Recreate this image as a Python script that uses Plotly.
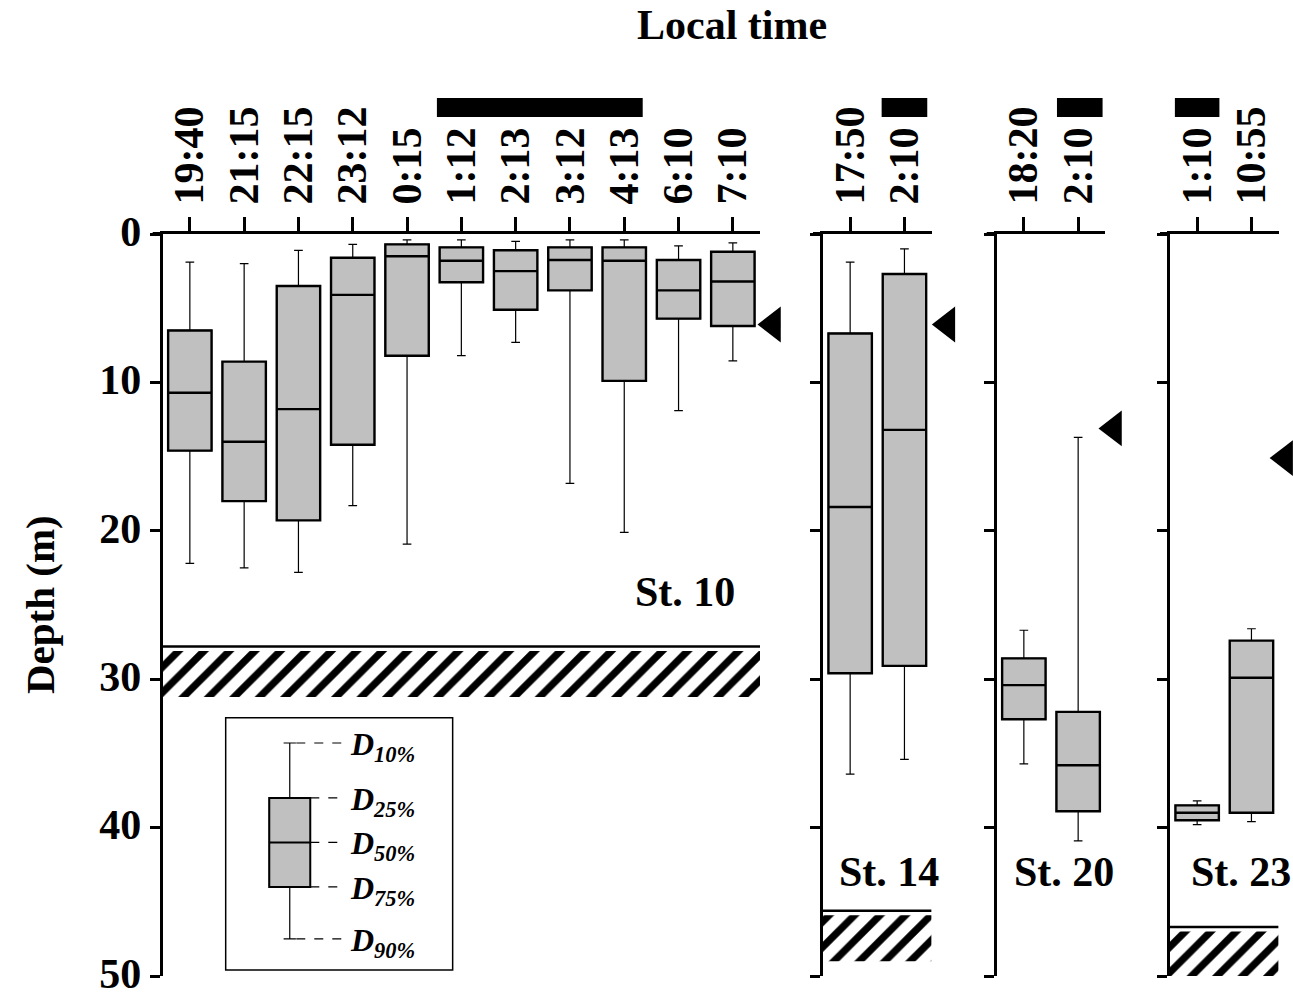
import plotly.graph_objects as go

# ---------------- data (depth in m) ----------------
st10_times = ["19:40", "21:15", "22:15", "23:12", "0:15", "1:12", "2:13", "3:12", "4:13", "6:10", "7:10"]
st10_d10 = [1.9, 2.0, 1.1, 0.7, 0.4, 0.4, 0.5, 0.4, 0.4, 0.8, 0.6]
st10_d25 = [6.5, 8.6, 3.5, 1.6, 0.7, 0.9, 1.1, 0.9, 0.9, 1.75, 1.2]
st10_d50 = [10.7, 14.0, 11.8, 4.1, 1.5, 1.8, 2.5, 1.75, 1.8, 3.8, 3.2]
st10_d75 = [14.6, 18.0, 19.3, 14.2, 8.2, 3.25, 5.1, 3.8, 9.9, 5.7, 6.2]
st10_d90 = [22.2, 22.5, 22.8, 18.3, 20.9, 8.2, 7.3, 16.8, 20.1, 11.9, 8.55]

st14_times = ["17:50", "2:10"]
st14_d10 = [1.9, 1.0]
st14_d25 = [6.7, 2.7]
st14_d50 = [18.4, 13.2]
st14_d75 = [29.6, 29.1]
st14_d90 = [36.4, 35.4]

st20_times = ["18:20", "2:10"]
st20_d10 = [26.7, 13.7]
st20_d25 = [28.6, 32.2]
st20_d50 = [30.4, 35.8]
st20_d75 = [32.7, 38.9]
st20_d90 = [35.7, 40.9]

st23_times = ["1:10", "10:55"]
st23_d10 = [38.2, 26.6]
st23_d25 = [38.5, 27.4]
st23_d50 = [39.0, 29.9]
st23_d75 = [39.5, 39.0]
st23_d90 = [39.8, 39.6]

station_names = ["St. 10", "St. 14", "St. 20", "St. 23"]
marker_depth = [6.1, 6.1, 13.1, 15.1]          # black triangles
seafloor_depth = [27.8, 45.6, None, 46.7]       # hatched bottom
night_span = [(4.55, 8.34), (0.58, 1.42), (0.61, 1.45), (-0.41, 0.41)]  # black bars (category units)

legend_vals = [34.3, 38.0, 41.0, 44.0, 47.5]
legend_labels = ["10%", "25%", "50%", "75%", "90%"]

# ---------------- layout helpers ----------------
W, H = 1293, 994
U = 54.3                      # px per category
Y_TOP, Y_BOT = 234, 976       # px of depth 0 and 50


def px_x(p):
    return p / W


def px_y(p):
    return 1 - p / H


panels = [
    dict(times=st10_times, d=(st10_d10, st10_d25, st10_d50, st10_d75, st10_d90), left=162.7,
         label_pos=(9.12, 24.1), tri_off=0.74),
    dict(times=st14_times, d=(st14_d10, st14_d25, st14_d50, st14_d75, st14_d90), left=823.0,
         label_pos=(0.72, 43.0), tri_off=0.79),
    dict(times=st20_times, d=(st20_d10, st20_d25, st20_d50, st20_d75, st20_d90), left=996.7,
         label_pos=(0.74, 43.0), tri_off=0.66),
    dict(times=st23_times, d=(st23_d10, st23_d25, st23_d50, st23_d75, st23_d90), left=1170.0,
         label_pos=(0.80, 43.0), tri_off=0.62),
]

FONT = "Liberation Serif"
BOX_FILL = "#c0c0c0"
FS = 42

fig = go.Figure()
layout = dict(
    template="none",
    width=W, height=H, autosize=False,
    margin=dict(l=0, r=0, t=0, b=0, pad=0),
    paper_bgcolor="white", plot_bgcolor="rgba(0,0,0,0)",
    showlegend=False,
    font=dict(family=FONT, color="black", size=FS, weight="bold"),
    boxmode="overlay",
)
shapes = []
annotations = []

for i, p in enumerate(panels):
    k = "" if i == 0 else str(i + 1)
    xa, ya = "x" + k, "y" + k
    n = len(p["times"])
    xs = list(range(n))
    d10, d25, d50, d75, d90 = p["d"]
    left = p["left"]
    right = left + n * U

    layout["xaxis" + k] = dict(
        domain=[px_x(left), px_x(right)], range=[-0.5, n - 0.5], anchor=ya, side="top",
        tickvals=xs, ticktext=p["times"], tickangle=-90,
        ticks="outside", ticklen=14, tickwidth=3, tickcolor="black",
        showline=True, linewidth=3, linecolor="black", mirror=False,
        showgrid=False, zeroline=False, fixedrange=True, automargin=False,
        tickfont=dict(family=FONT, size=FS, weight="bold", color="black"),
        ticklabelstandoff=4,
    )
    layout["yaxis" + k] = dict(
        domain=[px_y(Y_BOT), px_y(Y_TOP)], range=[50, 0], anchor=xa,
        tick0=0, dtick=10, ticks="outside", ticklen=10, tickwidth=3, tickcolor="black",
        showline=True, linewidth=3, linecolor="black", mirror=False,
        showticklabels=(i == 0), showgrid=False, zeroline=False, fixedrange=True,
        automargin=False, ticklabeloverflow="allow", ticklabelshift=3,
        tickfont=dict(family=FONT, size=FS, weight="bold", color="black"),
    )
    # invisible wider x axis for the triangle markers (same scale)
    ek = str(5 + i)
    ext_right = min(W, left + (n + 1) * U)
    layout["xaxis" + ek] = dict(
        domain=[px_x(left), px_x(ext_right)], range=[-0.5, -0.5 + (ext_right - left) / U],
        anchor=ya, visible=False, fixedrange=True, automargin=False,
        showgrid=False, zeroline=False,
    )

    # seafloor hatch
    sf = seafloor_depth[i]
    if sf is not None:
        thick = min(3.1, 50 - sf - 0.3)
        fig.add_trace(go.Bar(
            x=[(n - 1) / 2], y=[thick], base=[sf + 0.3],
            width=[n], xaxis=xa, yaxis=ya, hoverinfo="skip",
            marker=dict(color="white", line=dict(width=0),
                        pattern=dict(shape="/", fgcolor="black", bgcolor="white", fgopacity=1,
                                     size=18, solidity=0.4)),
        ))
        shapes.append(dict(type="line", xref=xa, yref=ya, x0=-0.5, x1=n - 0.5, y0=sf, y1=sf,
                           line=dict(color="black", width=2.5)))

    # whiskers (thin)
    fig.add_trace(go.Box(
        x=xs, lowerfence=d10, q1=d25, median=d50, q3=d75, upperfence=d90,
        width=0.8, whiskerwidth=0.2, fillcolor=BOX_FILL, boxpoints=False,
        line=dict(color="black", width=1.2), xaxis=xa, yaxis=ya, hoverinfo="skip",
    ))
    # boxes (thick)
    fig.add_trace(go.Box(
        x=xs, lowerfence=d25, q1=d25, median=d50, q3=d75, upperfence=d75,
        width=0.8, whiskerwidth=0, fillcolor=BOX_FILL, boxpoints=False,
        line=dict(color="black", width=2.4), xaxis=xa, yaxis=ya, hoverinfo="skip",
    ))

    # triangle marker
    fig.add_trace(go.Scatter(
        x=[n - 1 + p["tri_off"]], y=[marker_depth[i]], mode="markers",
        marker=dict(symbol="triangle-left", size=31, color="black", line=dict(width=0)),
        xaxis="x" + ek, yaxis=ya, hoverinfo="skip",
    ))

    # night bar
    a, b = night_span[i]
    shapes.append(dict(type="rect", xref=xa, yref="paper", x0=a, x1=b,
                       y0=px_y(117), y1=px_y(98), fillcolor="black", line=dict(width=0)))

    # top axis line extension to the left
    shapes.append(dict(type="line", xref="paper", yref="paper",
                       x0=px_x(left - 10), x1=px_x(left), y0=px_y(Y_TOP - 0.5), y1=px_y(Y_TOP - 0.5),
                       line=dict(color="black", width=3)))

    # station label
    lx, ly = p["label_pos"]
    annotations.append(dict(text=station_names[i], xref=xa, yref=ya, x=lx, y=ly,
                            showarrow=False, xanchor="center", yanchor="middle",
                            font=dict(family=FONT, size=FS, weight="bold", color="black")))

# ---------------- key (legend box) in St. 10 panel ----------------
shapes.append(dict(type="rect", xref="x", yref="y", x0=0.66, x1=4.84, y0=32.6, y1=49.6,
                   line=dict(color="black", width=1.5), fillcolor="rgba(0,0,0,0)"))
kx = 1.84
fig.add_trace(go.Box(
    x=[kx], lowerfence=[legend_vals[0]], q1=[legend_vals[1]], median=[legend_vals[2]],
    q3=[legend_vals[3]], upperfence=[legend_vals[4]], width=0.755, whiskerwidth=0.3,
    fillcolor=BOX_FILL, boxpoints=False, line=dict(color="black", width=1.2),
    xaxis="x", yaxis="y", hoverinfo="skip"))
fig.add_trace(go.Box(
    x=[kx], lowerfence=[legend_vals[1]], q1=[legend_vals[1]], median=[legend_vals[2]],
    q3=[legend_vals[3]], upperfence=[legend_vals[3]], width=0.755, whiskerwidth=0,
    fillcolor=BOX_FILL, boxpoints=False, line=dict(color="black", width=2.0),
    xaxis="x", yaxis="y", hoverinfo="skip"))
for j, (v, lab) in enumerate(zip(legend_vals, legend_labels)):
    x_start = kx + (0.12 if j in (0, 4) else 0.378)
    shapes.append(dict(type="line", xref="x", yref="y", x0=x_start, x1=2.85, y0=v, y1=v,
                       line=dict(color="black", width=1.2, dash="dash")))
    annotations.append(dict(text="<i>D<sub>" + lab + "</sub></i>", xref="x", yref="y",
                            x=2.92, y=v - 1.3, showarrow=False, xanchor="left", yanchor="top",
                            font=dict(family=FONT, size=32, weight="bold", color="black")))

# ---------------- titles ----------------
annotations.append(dict(text="Local time", xref="paper", yref="paper", x=px_x(732), y=px_y(25),
                        showarrow=False, xanchor="center", yanchor="middle",
                        font=dict(family=FONT, size=FS, weight="bold", color="black")))
annotations.append(dict(text="Depth (m)", xref="paper", yref="paper", x=px_x(40), y=px_y(605),
                        showarrow=False, xanchor="center", yanchor="middle", textangle=-90,
                        font=dict(family=FONT, size=41, weight="bold", color="black")))

layout["shapes"] = shapes
layout["annotations"] = annotations
fig.update_layout(**layout)

fig.write_html("out.html")
